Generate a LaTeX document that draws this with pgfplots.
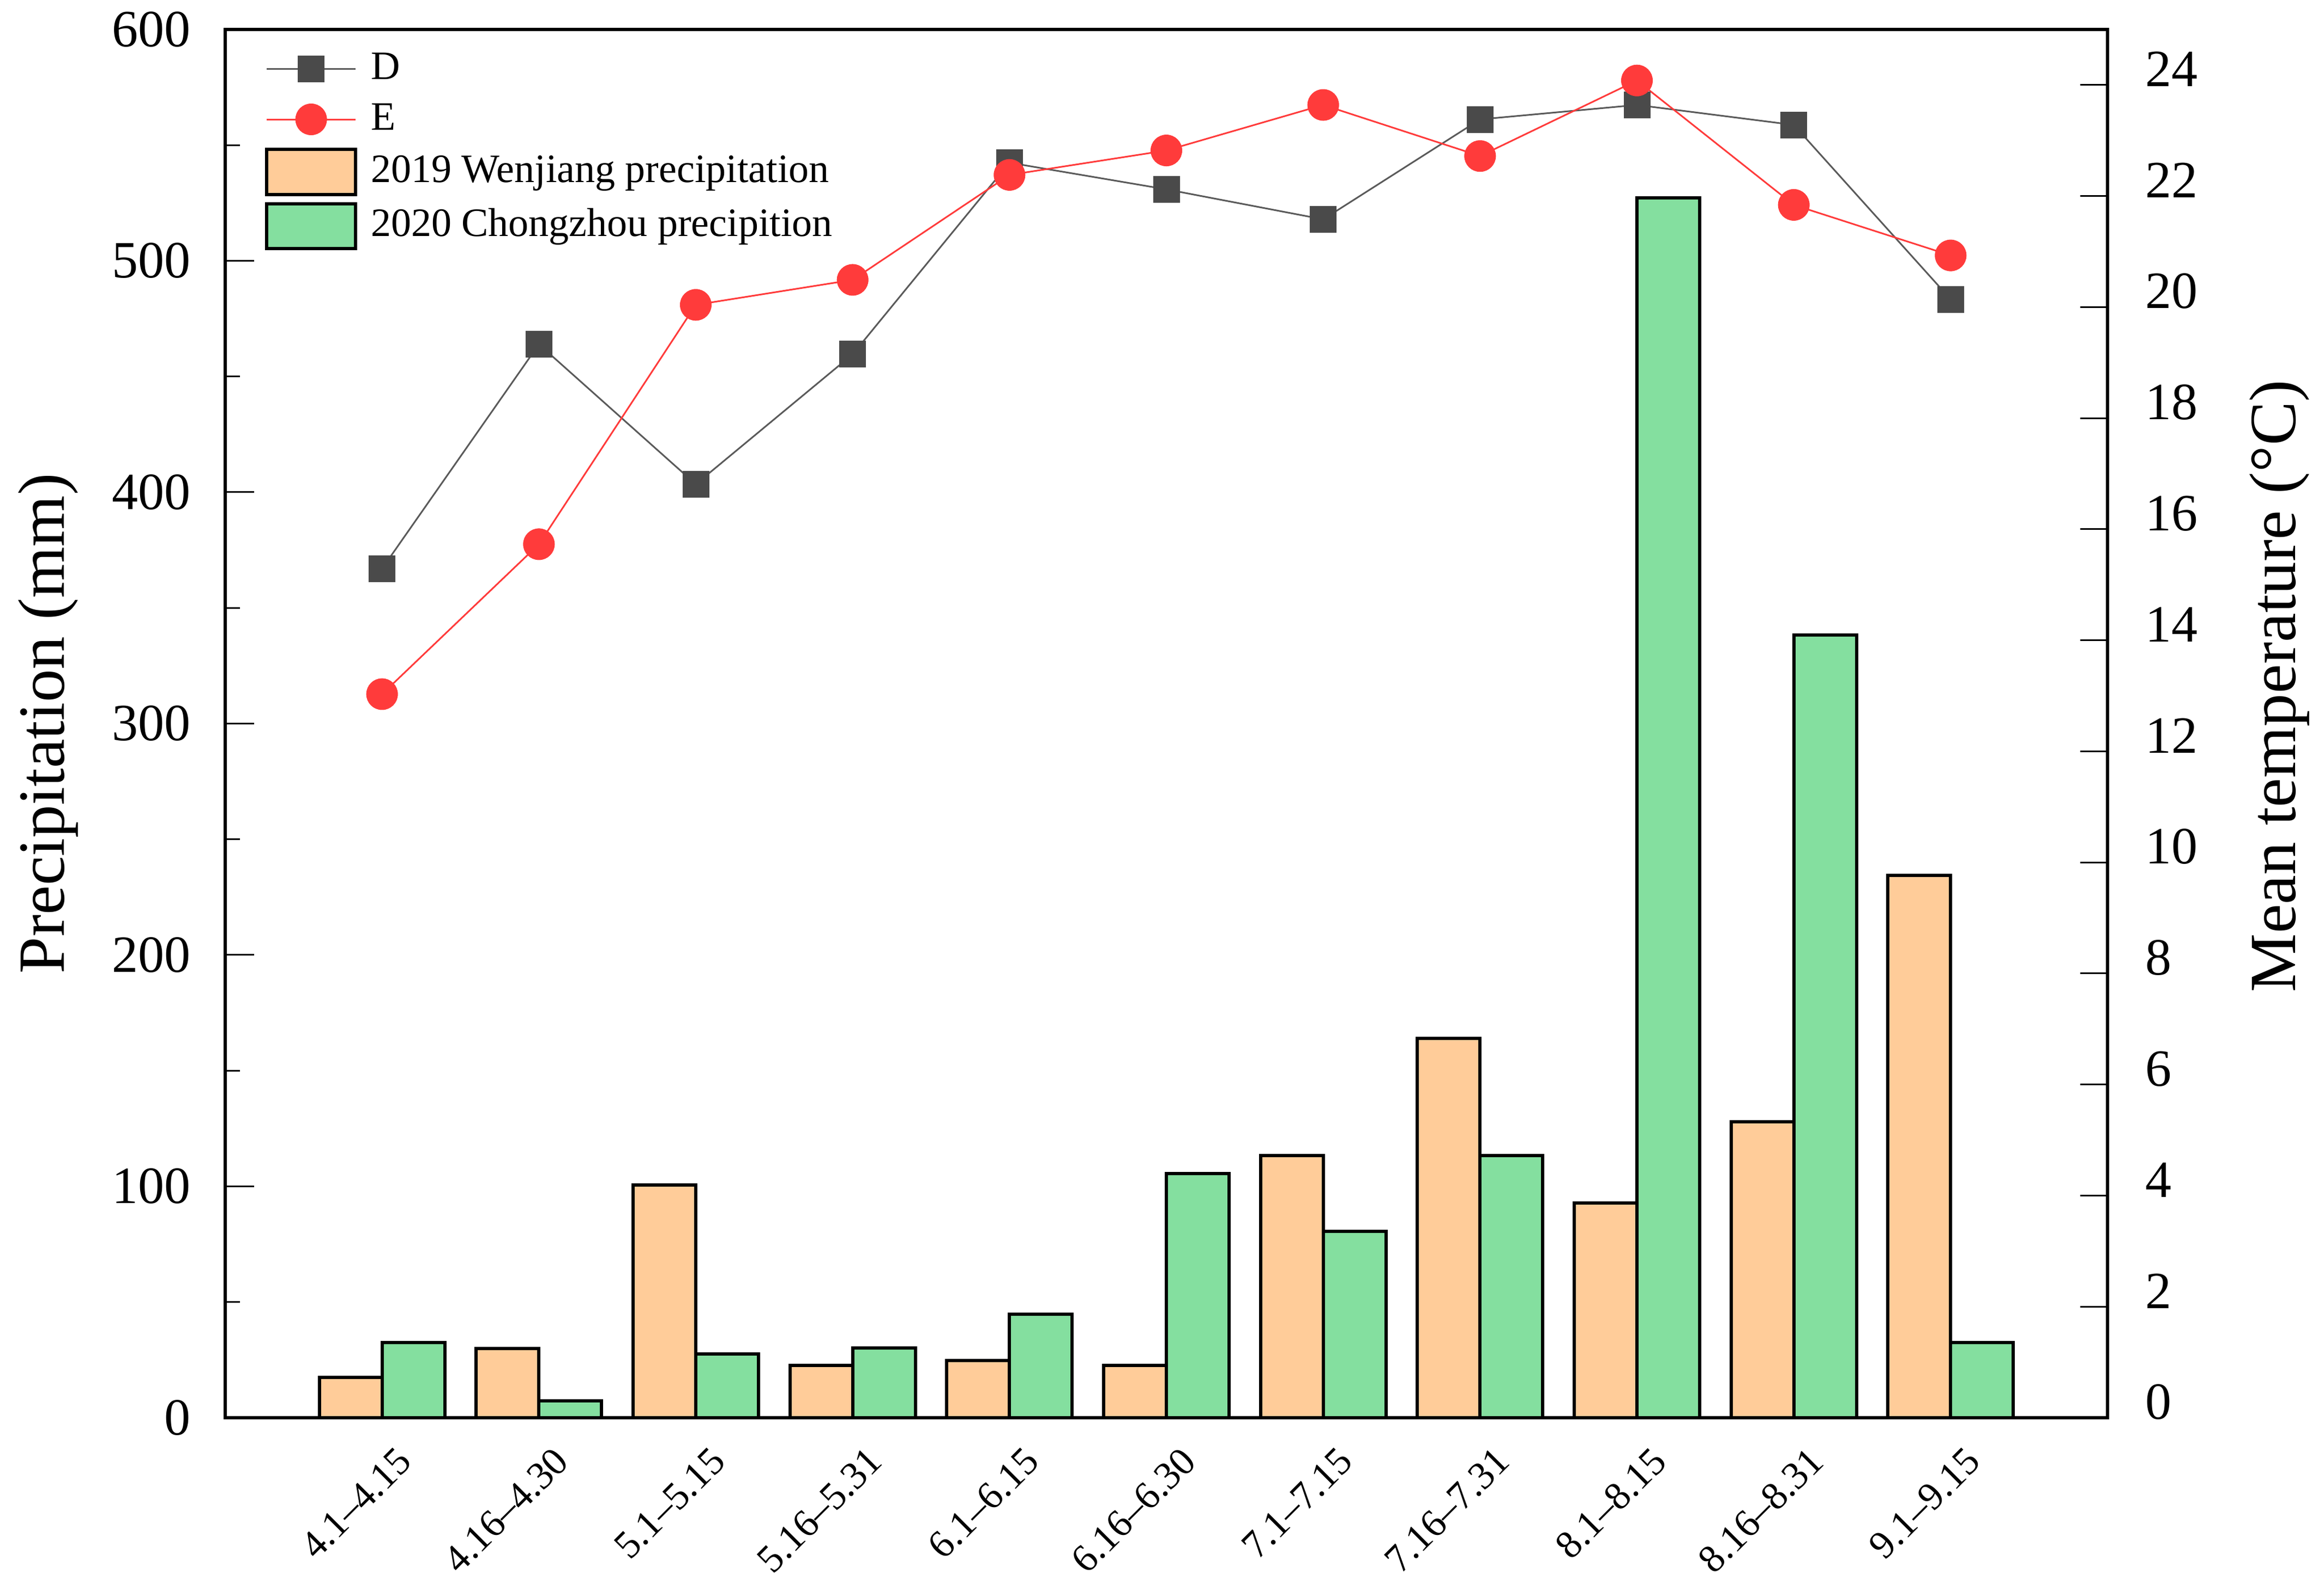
\documentclass[border=0pt]{standalone}
\usepackage{pgfplots}
\pgfplotsset{compat=1.18}
\usepackage{fontspec}
\setmainfont{Liberation Serif}
\definecolor{barO}{HTML}{FFCC99}
\definecolor{barG}{HTML}{84DF9F}
\definecolor{dgray}{HTML}{4A4A4A}
\definecolor{lgray}{HTML}{5A5A5A}
\definecolor{ered}{HTML}{FF3B3B}
\begin{document}
\begin{tikzpicture}
\useasboundingbox (0,0) rectangle (426.2pt,291.7pt);
\begin{axis}[
  at={(41.3pt,31.6pt)}, anchor=south west,
  width=345.2pt, height=254.7pt, scale only axis,
  xmin=-1, xmax=11, ymin=0, ymax=600,
  xtick={0,...,10},
  xticklabels={4.1–4.15,4.16–4.30,5.1–5.15,5.16–5.31,6.1–6.15,6.16–6.30,7.1–7.15,7.16–7.31,8.1–8.15,8.16–8.31,9.1–9.15},
  x tick style={draw=none},
  xtick pos=bottom,
  xticklabel style={font=\fontsize{7.2}{8}\selectfont, inner sep=0pt, xshift=2.4pt, yshift=-4.8pt, rotate=45, anchor=north east},
  ytick={0,100,...,600},
  minor y tick num=1,
  ytick pos=left,
  tick align=inside,
  major tick length=5.3pt, minor tick length=2.7pt,
  y tick style={line width=0.3pt, black},
  axis line style={line width=0.55pt, black},
  yticklabel style={font=\fontsize{9.6}{11}\selectfont},
  /pgf/number format/assume math mode=true,
  yticklabel shift=2.8pt,
  ylabel={Precipitation (mm)},
  ylabel style={font=\fontsize{12.1}{14}\selectfont, at={(axis description cs:-0.0941,0.5)}, anchor=center},
]
\addplot[ybar, bar width=0.4, bar shift=-0.2, fill=barO, draw=black, line width=0.6pt] coordinates {
(0,17.4) (1,29.8) (2,100.6) (3,22.6) (4,24.8) (5,22.6) (6,113.3) (7,163.9) (8,92.8) (9,128.0) (10,234.3)};
\addplot[ybar, bar width=0.4, bar shift=0.2, fill=barG, draw=black, line width=0.6pt] coordinates {
(0,32.6) (1,7.3) (2,27.6) (3,30.2) (4,44.8) (5,105.6) (6,80.6) (7,113.3) (8,527.2) (9,338.2) (10,32.6)};
\end{axis}
\begin{axis}[
  at={(41.3pt,31.6pt)}, anchor=south west,
  width=345.2pt, height=254.7pt, scale only axis,
  xmin=-1, xmax=11, ymin=0, ymax=25,
  axis x line=none,
  axis y line*=right,
  ytick={0,2,...,24},
  tick align=inside,
  major tick length=5pt,
  y tick style={line width=0.3pt, black},
  axis line style={line width=0.55pt, black},
  yticklabel style={font=\fontsize{9.6}{11}\selectfont, yshift=2.9pt},
  /pgf/number format/assume math mode=true,
  yticklabel shift=3.4pt,
  ylabel={Mean temperature (°C)},
  ylabel style={font=\fontsize{12.1}{14}\selectfont, at={(axis description cs:1.0913,0.527)}, anchor=center},
  legend style={at={(axis description cs:0.0206,0.9886)}, anchor=north west, draw=none, fill=none,
    inner sep=0pt, row sep=1.1pt, column sep=2pt,
    font=\fontsize{7.4}{8.9}\selectfont,
    nodes={inner sep=0.5pt, text height=5.5pt, text depth=1.7pt}},
  legend cell align=left,
  legend image code/.code={\draw[mark repeat=2,mark phase=2,#1] plot coordinates {(0cm,0cm) (0.2865cm,0cm) (0.573cm,0cm)};},
]
\addplot[color=lgray, line width=0.3pt, mark=square*, mark size=2.4pt, mark options={fill=dgray, draw=dgray, line width=0.1pt}] coordinates {
(0,15.29) (1,19.33) (2,16.81) (3,19.15) (4,22.60) (5,22.12) (6,21.58) (7,23.38) (8,23.64) (9,23.28) (10,20.14)};
\addlegendentry{D}
\addplot[color=ered, line width=0.3pt, mark=*, mark size=2.85pt, mark options={fill=ered, draw=ered, line width=0.1pt}] coordinates {
(0,13.03) (1,15.73) (2,20.04) (3,20.49) (4,22.38) (5,22.82) (6,23.64) (7,22.72) (8,24.08) (9,21.84) (10,20.93)};
\addlegendentry{E}
\addlegendimage{legend image code/.code={\draw[fill=barO, draw=black, line width=0.6pt] (0cm,-0.145cm) rectangle (0.573cm,0.145cm);}}
\addlegendentry{2019 Wenjiang precipitation}
\addlegendimage{legend image code/.code={\draw[fill=barG, draw=black, line width=0.6pt] (0cm,-0.145cm) rectangle (0.573cm,0.145cm);}}
\addlegendentry{2020 Chongzhou precipition}
\end{axis}
\end{tikzpicture}
\end{document}
